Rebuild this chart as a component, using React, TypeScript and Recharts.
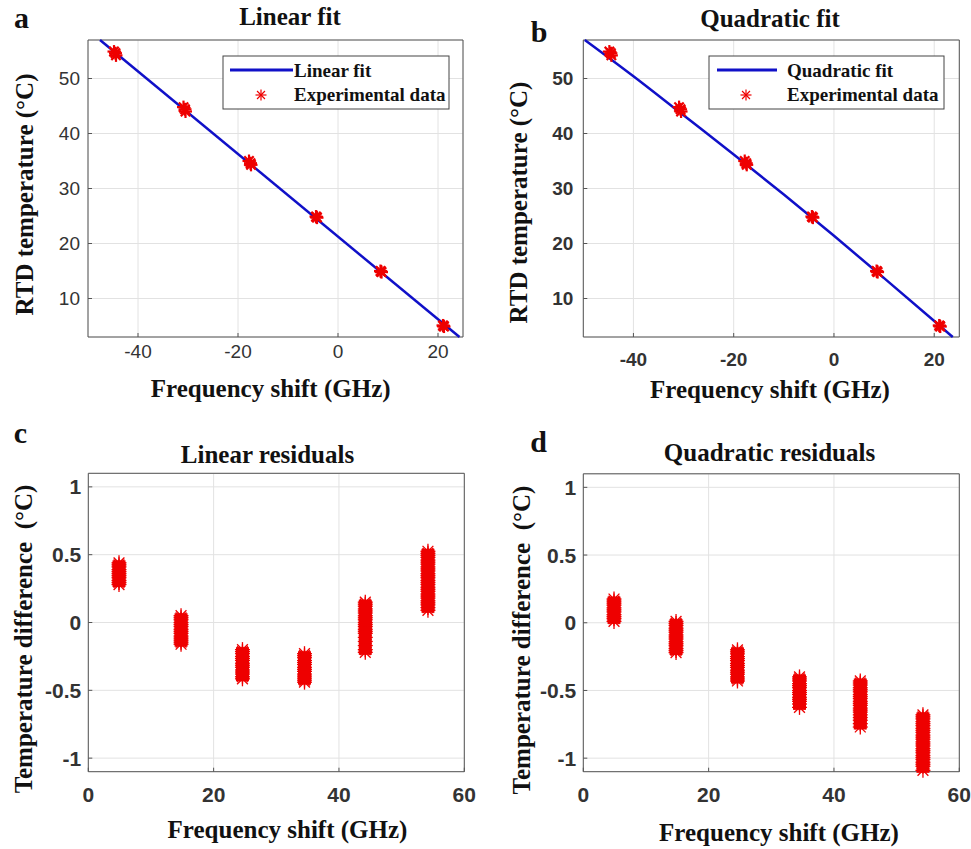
import React from "react";
import {
  ComposedChart,
  ScatterChart,
  Scatter,
  Line,
  XAxis,
  YAxis,
  CartesianGrid,
  ReferenceArea,
} from "recharts";

// panels a / b : frequency shift (GHz) vs RTD temperature (°C)
const expShift = [
  -44.8, -44.5, -44.4, -30.9, -30.6, -30.5, -17.8, -17.5, -17.4,
  -4.4, -4.3, -4.2, 8.5, 8.6, 8.7, 21.0, 21.1, 21.2,
];
const expTemp = [
  54.9, 54.6, 54.2, 44.8, 44.4, 44.0, 35.0, 34.6, 34.3,
  24.9, 24.8, 24.7, 15.0, 14.9, 14.8, 5.1, 5.0, 4.9,
];
const linFitShift = [-47.6, 24.3];
const linFitTemp = [57.0, 3.0];
const quadFitShift = [-49.7, -40, -30, -20, -10, 0, 10, 20, 23.7];
const quadFitTemp = [57.0, 50.4, 43.3, 36.2, 28.9, 21.4, 13.7, 5.9, 3.0];

const topXTicks = [-40, -20, 0, 20];
const topYTicks = [10, 20, 30, 40, 50];

// panels c / d : residuals at each RTD set point
const resX = [4.9, 14.8, 24.6, 34.5, 44.2, 54.2];
const linRes = [
  [0.44, 0.425, 0.41, 0.39, 0.375, 0.36, 0.345, 0.33, 0.31, 0.295, 0.28],
  [0.05, 0.035, 0.02, 0.0, -0.015, -0.03, -0.05, -0.065, -0.08, -0.1, -0.115, -0.13, -0.145, -0.16],
  [-0.2, -0.215, -0.23, -0.25, -0.265, -0.28, -0.3, -0.315, -0.33, -0.35, -0.365, -0.38, -0.4, -0.415],
  [-0.23, -0.245, -0.26, -0.28, -0.295, -0.31, -0.33, -0.345, -0.36, -0.38, -0.395, -0.41, -0.425, -0.44],
  [0.15, 0.135, 0.12, 0.1, 0.085, 0.07, 0.05, 0.035, 0.02, 0.0, -0.015, -0.03, -0.05, -0.065, -0.08, -0.11, -0.14, -0.17, -0.2, -0.22],
  [0.525, 0.51, 0.495, 0.48, 0.46, 0.445, 0.43, 0.41, 0.395, 0.38, 0.36, 0.345, 0.33, 0.31, 0.295, 0.28, 0.26, 0.245, 0.23, 0.21, 0.195, 0.18, 0.16, 0.145, 0.13, 0.11, 0.09],
];
const quadRes = [
  [0.175, 0.16, 0.145, 0.13, 0.11, 0.095, 0.08, 0.06, 0.045, 0.03, 0.01],
  [0.01, -0.005, -0.02, -0.04, -0.055, -0.07, -0.09, -0.105, -0.12, -0.14, -0.155, -0.17, -0.19, -0.205, -0.22],
  [-0.2, -0.215, -0.23, -0.25, -0.265, -0.28, -0.3, -0.315, -0.33, -0.35, -0.365, -0.38, -0.4, -0.415, -0.43],
  [-0.4, -0.415, -0.43, -0.45, -0.465, -0.48, -0.5, -0.515, -0.53, -0.55, -0.565, -0.58, -0.6, -0.625],
  [-0.43, -0.445, -0.46, -0.48, -0.495, -0.51, -0.53, -0.545, -0.56, -0.58, -0.595, -0.61, -0.63, -0.645, -0.66, -0.68, -0.7, -0.72, -0.745, -0.77],
  [-0.68, -0.695, -0.71, -0.73, -0.745, -0.76, -0.78, -0.795, -0.81, -0.83, -0.845, -0.86, -0.88, -0.895, -0.91, -0.93, -0.945, -0.96, -0.98, -0.995, -1.01, -1.03, -1.045, -1.06, -1.09],
];
const botXTicks = [0, 20, 40, 60];
const botYTicks = [-1, -0.5, 0, 0.5, 1];

const RED = "#ee0000";
const BLUE = "#1010c8";
const FRAME = "#555";
const SERIF = "'Liberation Serif', 'Times New Roman', serif";
const SANS = "'Liberation Sans', Arial, sans-serif";

const expData = expShift.map((x, i) => ({ x, y: expTemp[i] }));
const linFit = linFitShift.map((x, i) => ({ x, y: linFitTemp[i] }));
const quadFit = quadFitShift.map((x, i) => ({ x, y: quadFitTemp[i] }));
const toPoints = (groups: number[][]) =>
  groups.flatMap((ys, i) => ys.map((y) => ({ x: resX[i], y })));

// matlab-ish '*' marker, optionally with a filled core so dense stacks read as solid
const asterisk = (r: number, sw: number, core = 0) => (p: any) => {
  const { cx, cy } = p;
  if (cx == null || cy == null) return <g />;
  const d = r * 0.72;
  return (
    <g stroke={RED} strokeWidth={sw}>
      {core > 0 && <rect x={cx - core} y={cy - 2.5} width={core * 2} height={5} fill={RED} stroke="none" />}
      <line x1={cx - r} y1={cy} x2={cx + r} y2={cy} />
      <line x1={cx} y1={cy - r} x2={cx} y2={cy + r} />
      <line x1={cx - d} y1={cy - d} x2={cx + d} y2={cy + d} />
      <line x1={cx - d} y1={cy + d} x2={cx + d} y2={cy - d} />
    </g>
  );
};

// inward tick marks on all four sides, like a matlab box
function Frame({ xd, yd, xt, yt }: any) {
  const line = { stroke: FRAME };
  return [
    <XAxis key="xt" xAxisId="top" orientation="top" type="number" domain={xd} ticks={xt} height={0}
      axisLine={false} tick={false} tickLine={line} tickSize={-4} />,
    <YAxis key="yr" yAxisId="right" orientation="right" type="number" domain={yd} ticks={yt} width={0}
      axisLine={false} tick={false} tickLine={line} tickSize={-4} />,
  ];
}

function FitPanel({ left, top, margin, fit, bold, xMargin, yMargin }: any) {
  const tick = { fontFamily: SANS, fontSize: 19, fill: "#333", fontWeight: bold ? 700 : 400 };
  const xd = [-50, 25];
  const yd = [3, 57];
  return (
    <div style={{ position: "absolute", left, top }}>
      <ComposedChart width={left === 0 ? 485 : 481} height={425} margin={margin}>
        <CartesianGrid stroke="#e2e2e2" />
        <XAxis type="number" dataKey="x" domain={xd} ticks={topXTicks} height={40}
          axisLine={false} tickLine={{ stroke: FRAME }} tickSize={-4} tickMargin={xMargin + 4} tick={tick} />
        <YAxis type="number" dataKey="y" domain={yd} ticks={topYTicks} width={60}
          axisLine={false} tickLine={{ stroke: FRAME }} tickSize={-4} tickMargin={yMargin + 4} tick={tick} />
        {Frame({ xd, yd, xt: topXTicks, yt: topYTicks })}
        <ReferenceArea x1={-50} x2={25} y1={3} y2={57} fill="none" stroke={FRAME} strokeWidth={1} />
        <Line data={fit} dataKey="y" stroke={BLUE} strokeWidth={2.5} dot={false} isAnimationActive={false} type="monotone" />
        <Scatter data={expData} dataKey="y" shape={asterisk(6.5, 2.2)} isAnimationActive={false} />
      </ComposedChart>
    </div>
  );
}

function ResPanel({ left, top, margin, groups }: any) {
  const tick = { fontFamily: SANS, fontSize: 21, fill: "#333", fontWeight: 700 };
  const xd = [0, 60];
  const yd = [-1.1, 1.1];
  return (
    <div style={{ position: "absolute", left, top }}>
      <ScatterChart width={left === 0 ? 485 : 481} height={424} margin={margin}>
        <CartesianGrid stroke="#e2e2e2" />
        <XAxis type="number" dataKey="x" domain={xd} ticks={botXTicks} height={40}
          axisLine={false} tickLine={{ stroke: FRAME }} tickSize={-4} tickMargin={19} tick={tick} />
        <YAxis type="number" dataKey="y" domain={yd} ticks={botYTicks} width={60}
          axisLine={false} tickLine={{ stroke: FRAME }} tickSize={-4} tickMargin={11} tick={tick} />
        {Frame({ xd, yd, xt: botXTicks, yt: botYTicks })}
        <ReferenceArea x1={0} x2={60} y1={-1.1} y2={1.1} fill="none" stroke={FRAME} strokeWidth={1} />
        <Scatter data={toPoints(groups)} shape={asterisk(7.5, 1.3, 6.5)} isAnimationActive={false} />
      </ScatterChart>
    </div>
  );
}

function Legend({ x, w, name, lineX1, lineX2, textX, starX }: any) {
  const s = 5.5;
  const d = s * 0.72;
  return (
    <g>
      <rect x={x} y={56} width={w} height={53} fill="#fff" stroke="#444" strokeWidth={1} />
      <line x1={lineX1} x2={lineX2} y1={70} y2={70} stroke={BLUE} strokeWidth={3} />
      <text x={textX} y={77} fontFamily={SERIF} fontWeight={700} fontSize={19} fill="#111">{name}</text>
      <g stroke={RED} strokeWidth={1.2}>
        <line x1={starX - s} y1={95} x2={starX + s} y2={95} />
        <line x1={starX} y1={95 - s} x2={starX} y2={95 + s} />
        <line x1={starX - d} y1={95 - d} x2={starX + d} y2={95 + d} />
        <line x1={starX - d} y1={95 + d} x2={starX + d} y2={95 - d} />
      </g>
      <text x={textX} y={101} fontFamily={SERIF} fontWeight={700} fontSize={19} fill="#111">Experimental data</text>
    </g>
  );
}

const T = ({ x, y, size = 25, rot, children }: any) => (
  <text x={x} y={y} textAnchor="middle" fontFamily={SERIF} fontWeight={700} fontSize={size} fill="#111"
    transform={rot ? `rotate(-90, ${x}, ${y})` : undefined} style={{ whiteSpace: "pre" }}>
    {children}
  </text>
);

export default function App() {
  return (
    <div style={{ position: "absolute", left: 0, top: 0, width: 971, height: 849, background: "#fff" }}>
      <FitPanel left={0} top={0} margin={{ top: 40, right: 22, bottom: 48, left: 28 }} fit={linFit}
        bold={false} xMargin={8} yMargin={8} />
      <FitPanel left={490} top={0} margin={{ top: 40, right: 11.7, bottom: 48, left: 33.3 }} fit={quadFit}
        bold={true} xMargin={16} yMargin={10} />
      <ResPanel left={0} top={425} margin={{ top: 48.3, right: 20.7, bottom: 37.3, left: 28.3 }} groups={linRes} />
      <ResPanel left={490} top={425} margin={{ top: 48.8, right: 11.7, bottom: 37.3, left: 33.3 }} groups={quadRes} />

      <svg width={971} height={849} style={{ position: "absolute", left: 0, top: 0, pointerEvents: "none" }}>
        <Legend x={223} w={226} name="Linear fit" lineX1={230} lineX2={293} textX={294} starX={261} />
        <Legend x={709} w={235} name="Quadratic fit" lineX1={717} lineX2={777} textX={787} starX={746} />

        <T x={21.5} y={28.3} size={30}>a</T>
        <T x={539} y={41.7} size={30}>b</T>
        <T x={20.5} y={443.3} size={30}>c</T>
        <T x={538.5} y={451.7} size={30}>d</T>

        <T x={290} y={25}>Linear fit</T>
        <T x={770} y={26.7}>Quadratic fit</T>
        <T x={267.5} y={463.3}>Linear residuals</T>
        <T x={769.5} y={460.7}>Quadratic residuals</T>

        <T x={270.7} y={397}>Frequency shift (GHz)</T>
        <T x={770} y={398}>Frequency shift (GHz)</T>
        <T x={287.5} y={838}>Frequency shift (GHz)</T>
        <T x={779} y={840.7}>Frequency shift (GHz)</T>

        <T x={33.3} y={194.5} rot>RTD temperature (°C)</T>
        <T x={527} y={202.5} rot>RTD temperature (°C)</T>
        <T x={31.7} y={639} rot>{"Temperature difference  (°C)"}</T>
        <T x={530} y={640} rot>{"Temperature difference  (°C)"}</T>
      </svg>
    </div>
  );
}
